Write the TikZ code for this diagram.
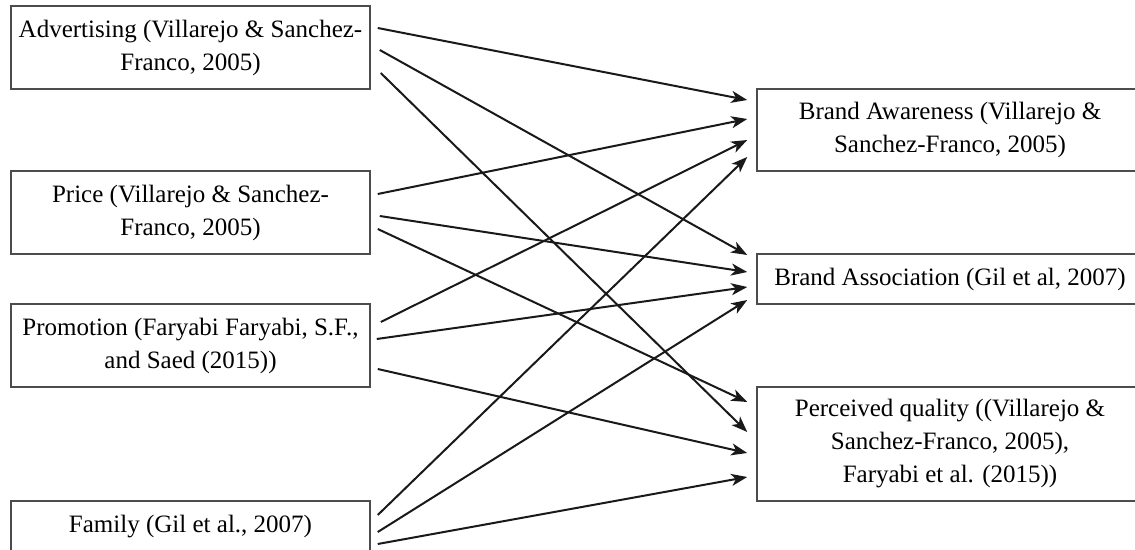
\documentclass[tikz,border=0pt]{standalone}
\usepackage{fontspec}
\setmainfont{Liberation Serif}
\usetikzlibrary{arrows.meta}

\tikzset{
	factor/.style={draw=black!70, line width=0.75pt, minimum width=179.5pt, align=center, inner sep=0pt, font=\fontsize{12.5}{16.5}\selectfont},
	outcome/.style={draw=black!70, line width=0.75pt, minimum width=193pt, align=center, inner sep=0pt, font=\fontsize{12.5}{16.5}\selectfont},
	link/.style={line width=1pt, black!90, -{Stealth[length=8pt, width=6pt, inset=2.2pt]}}
}

\begin{document}
\begin{tikzpicture}[x=0.5pt, y=-0.5pt]
		\useasboundingbox (0,0) rectangle (1135,550);
		\clip (0,0) rectangle (1135,550);

		% marketing mix on the left
		\node[factor, minimum height=41.5pt] (adv) at (190.5,47.5) {Advertising (Villarejo \& Sanchez-\\Franco, 2005)};
		\node[factor, minimum height=41.5pt] (price) at (190.5,212.5) {Price (Villarejo \& Sanchez-\\Franco, 2005)};
		\node[factor, minimum height=41.5pt] (promo) at (190.5,345.5) {Promotion (Faryabi Faryabi, S.F.,\\and Saed (2015))};
		\node[factor, minimum height=26pt] (family) at (190.5,527) {Family (Gil et al., 2007)};

		% brand equity on the right
		\node[outcome, minimum height=41pt] (aware) at (950,130) {Brand Awareness (Villarejo \&\\Sanchez-Franco, 2005)};
		\node[outcome, minimum height=25pt] (assoc) at (950,279) {Brand Association (Gil et al, 2007)};
		\node[outcome, minimum height=57pt] (quality) at (950,444) {Perceived quality ((Villarejo \&\\Sanchez-Franco, 2005),\\Faryabi et al. (2015))};

		% advertising
		\draw[link] ([shift={(7,-19.5)}]adv.east) -- ([shift={(-9,-30)}]aware.west);
		\draw[link] ([shift={(9,2.5)}]adv.east) -- ([shift={(-9,-24)}]assoc.west);
		\draw[link] ([shift={(10,25.5)}]adv.east) -- ([shift={(-9,-12)}]quality.west);
		% price
		\draw[link] ([shift={(7,-18.5)}]price.east) -- ([shift={(-9,-11)}]aware.west);
		\draw[link] ([shift={(9,3.5)}]price.east) -- ([shift={(-9,-7)}]assoc.west);
		\draw[link] ([shift={(7,16.5)}]price.east) -- ([shift={(-9,-42)}]quality.west);
		% promotion
		\draw[link] ([shift={(10,-23.5)}]promo.east) -- ([shift={(-9,10)}]aware.west);
		\draw[link] ([shift={(6,-6.5)}]promo.east) -- ([shift={(-9,8)}]assoc.west);
		\draw[link] ([shift={(7,23.5)}]promo.east) -- ([shift={(-9,9)}]quality.west);
		% family
		\draw[link] ([shift={(7,-12)}]family.east) -- ([shift={(-9,27)}]aware.west);
		\draw[link] ([shift={(7,5)}]family.east) -- ([shift={(-9,21)}]assoc.west);
		\draw[link] ([shift={(7,17)}]family.east) -- ([shift={(-9,33)}]quality.west);
	\end{tikzpicture}
\end{document}
